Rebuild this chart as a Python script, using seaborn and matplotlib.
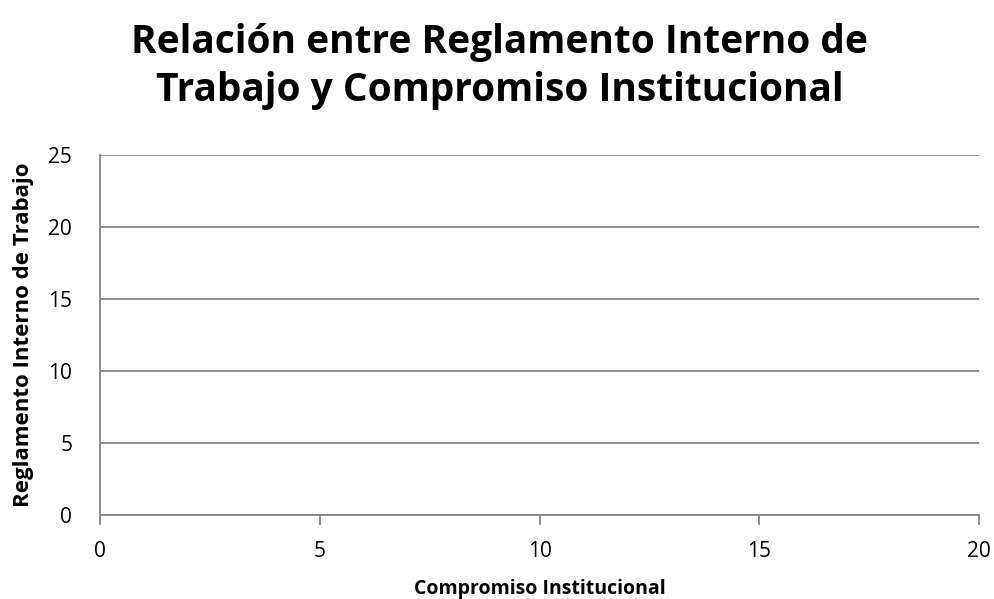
import seaborn as sns
import pandas as pd
import matplotlib.pyplot as plt

sns.set_theme(style="white")
plt.rcParams['font.family'] = ['Open Sans', 'DejaVu Sans']
plt.rcParams['text.color'] = 'black'
plt.rcParams['xtick.color'] = 'black'
plt.rcParams['ytick.color'] = 'black'
plt.rcParams['axes.labelcolor'] = 'black'

# the source chart has no plotted points
compromiso = []
reglamento = []

df = pd.DataFrame({'Compromiso Institucional': pd.Series(compromiso, dtype=float),
                   'Reglamento Interno de Trabajo': pd.Series(reglamento, dtype=float)})

fig = plt.figure(figsize=(9.95, 5.99), dpi=100)
ax = fig.add_axes([100/995, 1 - 515/599, 879/995, 360/599])

sns.scatterplot(data=df, x='Compromiso Institucional',
                y='Reglamento Interno de Trabajo', ax=ax)

grey = '#868686'
ax.set_xlim(0, 20)
ax.set_ylim(0, 25)
ax.set_xticks([0, 5, 10, 15, 20])
ax.set_yticks([0, 5, 10, 15, 20, 25])
ax.yaxis.grid(True, color=grey, linewidth=1.3)
ax.set_axisbelow(True)
for side in ['top', 'right']:
    ax.spines[side].set_visible(False)
for side in ['left', 'bottom']:
    ax.spines[side].set_color(grey)
    ax.spines[side].set_linewidth(1.3)
ax.tick_params(axis='x', direction='out', length=7, width=1.3, color=grey,
               labelsize=15, pad=12, bottom=True)
ax.tick_params(axis='y', length=0, labelsize=15, pad=20)

ax.set_xlabel('Compromiso Institucional', fontsize=14, fontweight='bold', labelpad=12)
ax.set_ylabel('Reglamento Interno de Trabajo', fontsize=16, fontweight='bold', labelpad=10)

fig.suptitle('Relación entre Reglamento Interno de\nTrabajo y Compromiso Institucional',
             fontsize=28, fontweight='bold', x=0.502, y=0.962, linespacing=1.3)

fig.savefig('out.png', dpi=100)
